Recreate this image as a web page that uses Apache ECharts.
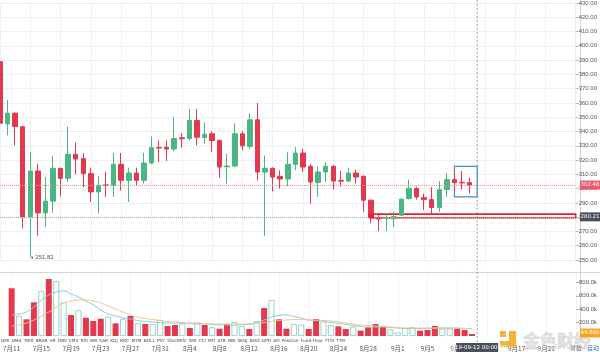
<!DOCTYPE html>
<html>
<head>
<meta charset="utf-8">
<script src="https://cdn.jsdelivr.net/npm/echarts@6/dist/echarts.min.js"></script>
<style>
html, body { margin: 0; padding: 0; background: #fff; }
#main { width: 600px; height: 352px; }
</style>
</head>
<body>
<div id="main"></div>
<script>
// 日期类目 (2019-07-11 起, 共 77 个位置)
var dates = [];
for (var k = 0; k < 77; k++) {
    var d = new Date(2019, 6, 11 + k);
    dates.push(d.getFullYear() + '-' + (d.getMonth() + 1) + '-' + d.getDate());
}

// K线 [open, close, low, high]
var candles = [
    [388.9, 345.8, 314.2, 391.0], [345.4, 352.8, 337.2, 362.1], [352.8, 343.5, 330.2, 353.5],
    [343.3, 280.2, 272.1, 344.0], [280.2, 312.3, 251.82, 325.6], [312.3, 283.0, 267.0, 317.5],
    [283.0, 291.2, 273.2, 308.1], [291.2, 314.2, 283.0, 323.0], [314.2, 307.2, 294.6, 314.6],
    [307.2, 324.0, 304.6, 343.5], [324.0, 320.7, 310.0, 332.3], [321.0, 310.5, 301.1, 324.9],
    [310.5, 297.7, 290.7, 314.7], [297.7, 302.3, 282.6, 308.6], [302.6, 302.2, 294.2, 311.6],
    [302.3, 317.0, 294.2, 324.9], [317.0, 305.8, 298.8, 324.9], [305.8, 310.9, 290.7, 314.7],
    [310.9, 305.8, 302.3, 314.7], [305.8, 317.9, 303.5, 325.1], [317.9, 328.6, 317.0, 336.5],
    [328.8, 328.4, 318.6, 333.7], [329.0, 327.7, 319.3, 333.7], [327.7, 335.1, 326.1, 350.0],
    [335.6, 334.9, 328.6, 338.8], [335.1, 347.7, 333.7, 355.8], [347.7, 336.0, 330.2, 355.8],
    [335.8, 338.1, 331.4, 346.5], [338.4, 333.7, 325.6, 340.0], [333.7, 315.1, 307.7, 334.5],
    [315.3, 315.8, 303.5, 324.4], [315.8, 338.4, 315.0, 345.8], [338.4, 330.0, 326.7, 340.2],
    [329.5, 348.2, 327.9, 352.8], [348.2, 311.6, 305.8, 360.0], [311.6, 314.2, 267.0, 323.3],
    [314.2, 308.1, 298.1, 315.0], [308.6, 306.7, 300.0, 312.8], [306.7, 317.0, 301.6, 325.4],
    [317.0, 324.9, 312.8, 329.1], [324.9, 315.1, 311.6, 327.9], [315.6, 304.6, 289.5, 317.0],
    [304.2, 311.6, 294.2, 315.6], [311.6, 315.6, 304.6, 318.4], [315.6, 305.3, 299.3, 316.5],
    [305.8, 305.2, 301.1, 312.4], [305.3, 310.9, 304.6, 314.7], [310.9, 308.1, 303.5, 313.3],
    [308.6, 291.9, 283.7, 309.3], [291.9, 280.2, 275.6, 292.3], [279.8, 278.7, 270.2, 283.0],
    [279.4, 279.6, 270.2, 283.0], [279.0, 280.4, 273.2, 283.7], [281.4, 292.6, 280.6, 293.3],
    [293.0, 300.0, 292.3, 306.3], [300.0, 294.2, 292.3, 301.2], [293.7, 292.3, 284.9, 296.5],
    [292.3, 286.8, 282.1, 301.1], [286.8, 299.3, 283.7, 305.3], [299.3, 306.3, 294.2, 310.9],
    [306.3, 304.2, 298.8, 312.8], [304.4, 304.0, 299.3, 312.4], [304.2, 302.48, 296.5, 307.7]
];

// 成交量 (k)
var volumes = [712, 299, 249, 503, 672, 851, 821, 503, 313, 383, 273, 224, 258, 288, 189, 249,
    299, 189, 179, 179, 239, 149, 164, 189, 119, 199, 164, 129, 109, 179, 209, 149, 104, 219,
    418, 537, 249, 109, 179, 169, 104, 254, 214, 159, 144, 104, 139, 80, 129, 179, 139, 100,
    50, 115, 129, 80, 90, 149, 109, 109, 115, 90, 30];

// 成交量均线 (读图, k)
var volMa1 = [313, 328, 358, 433, 537, 612, 657, 672, 627, 582, 522, 463, 388, 328, 299, 269,
    254, 231, 216, 209, 201, 194, 194, 194, 187, 179, 179, 172, 164, 164, 164, 172, 179, 201,
    239, 284, 306, 313, 291, 269, 239, 231, 224, 201, 187, 172, 157, 142, 134, 134, 134, 127,
    119, 112, 112, 112, 112, 119, 119, 119, 119, 112, 104];
var volMa2 = [149, 164, 194, 239, 299, 358, 433, 493, 522, 537, 537, 522, 493, 448, 403, 358,
    313, 284, 261, 246, 231, 216, 209, 201, 194, 194, 187, 179, 179, 179, 179, 179, 179, 187,
    201, 216, 231, 239, 246, 246, 239, 239, 231, 224, 209, 194, 179, 164, 157, 149, 142, 134,
    127, 119, 119, 119, 119, 119, 119, 119, 112, 112, 112];

var indicatorNames = ['DMI', 'DMA', 'TRIX', 'BRAR', 'VR', 'OBV', 'EMV', 'RSI', 'WR', 'SAR', 'KDJ',
    'ROC', 'MTM', 'BOLL', 'PSY', 'StochRSI', 'SMI', 'CCI', 'MFI', 'ATR', 'BBI', 'SKDJ', 'BIAS',
    'DPO', 'AO', 'Position', 'Fund-Flow', 'TTSI', 'TTM'];

var lastPrice = 302.48;
var crossPrice = 280.21;
var crossIndex = 63;
var lowLabel = '251.82';
var supportBand = [282.1, 279.6];
var boxRange = [315.6, 294.2];

var upColor = '#4cb584';
var downColor = '#e2394e';
var cjk = '"Noto Sans CJK SC", "DejaVu Sans", sans-serif';

var myechart = echarts.init(document.getElementById('main'));

function every4(idx) { return idx % 4 === 0; }
function fmtDate(v) {
    var p = v.split('-');
    return p[1] + '月' + p[2];
}

var volBars = volumes.map(function (v, i) {
    var up = candles[i][1] >= candles[i][0];
    return {
        value: v * 1000,
        itemStyle: up
            ? { color: '#fff', borderColor: '#82c8bf', borderWidth: 0.8 }
            : { color: downColor, borderWidth: 0 }
    };
});

var option = {
    animation: false,
    grid: [
        { left: 0, right: 20, top: 2, height: 258 },
        { left: 0, right: 20, top: 269, height: 67 }
    ],
    xAxis: [
        {
            type: 'category', gridIndex: 0, data: dates, boundaryGap: false,
            axisLine: { show: false }, axisTick: { show: false }, axisLabel: { show: false },
            splitLine: { show: true, interval: every4, lineStyle: { color: '#f0f0f0' } }
        },
        {
            type: 'category', gridIndex: 1, data: dates, boundaryGap: false,
            axisLine: { show: false }, axisTick: { show: false },
            axisLabel: {
                show: true, color: '#555', fontSize: 6.5, fontFamily: cjk, margin: 9,
                interval: function (idx) { return idx % 4 === 0 && idx < 76; },
                formatter: fmtDate
            },
            splitLine: { show: true, interval: every4, lineStyle: { color: '#f3f3f3' } }
        }
    ],
    yAxis: [
        {
            type: 'value', gridIndex: 0, position: 'right', min: 250, max: 430, interval: 10,
            axisLine: { show: false },
            axisTick: { show: true, length: 3, lineStyle: { color: '#bbb' } },
            axisLabel: { color: '#555', fontSize: 6, margin: 3, formatter: function (v) { return v.toFixed(2); } },
            splitLine: { lineStyle: { color: '#f0f0f0' } }
        },
        {
            type: 'value', gridIndex: 1, position: 'right', min: 0, max: 1000000, interval: 200000,
            axisLine: { show: false },
            axisTick: { show: true, length: 3, lineStyle: { color: '#bbb' } },
            axisLabel: {
                color: '#555', fontSize: 6, margin: 3, showMinLabel: false, showMaxLabel: false,
                formatter: function (v) { return (v / 1000).toFixed(1) + 'k'; }
            },
            splitLine: { show: false }
        }
    ],
    series: [
        {
            type: 'candlestick', xAxisIndex: 0, yAxisIndex: 0, data: candles,
            barWidth: 5,
            itemStyle: { color: upColor, color0: downColor, borderColor: upColor, borderColor0: downColor, borderWidth: 1 },
            markLine: {
                symbol: 'none', silent: true, label: { show: false },
                data: [
                    { yAxis: lastPrice, lineStyle: { color: '#ec8f9a', type: 'dotted', width: 1 } },
                    { yAxis: crossPrice, lineStyle: { color: '#a8a8a8', type: 'dotted', width: 1 } }
                ]
            },
            markArea: {
                silent: true,
                data: [
                    [{ xAxis: dates[60], yAxis: boxRange[0], itemStyle: { color: 'rgba(0,0,0,0)', borderColor: '#3d8fd6', borderWidth: 1.2 } },
                     { xAxis: dates[63], yAxis: boxRange[1] }],
                    [{ xAxis: dates[49], yAxis: supportBand[0], itemStyle: { color: 'rgba(0,0,0,0)', borderColor: '#e4232f', borderWidth: 1.6 } },
                     { xAxis: dates[76], yAxis: supportBand[1] }]
                ]
            },
            markPoint: {
                silent: true,
                data: [
                    {
                        coord: [dates[4], candles[4][2]], symbol: 'circle', symbolSize: 2, symbolOffset: [2, 0],
                        itemStyle: { color: '#666' },
                        label: { show: true, position: 'right', distance: 2, formatter: lowLabel, fontSize: 6, color: '#555' }
                    },
                    {
                        coord: [dates[49], (supportBand[0] + supportBand[1]) / 2], symbol: 'rect', symbolSize: [5, 5],
                        itemStyle: { color: '#e4232f' }, label: { show: false }
                    }
                ]
            }
        },
        {
            type: 'bar', xAxisIndex: 1, yAxisIndex: 1, data: volBars, barWidth: 6
        },
        {
            type: 'line', xAxisIndex: 1, yAxisIndex: 1, smooth: true, symbol: 'none',
            data: volMa1.map(function (v) { return v * 1000; }),
            lineStyle: { color: '#7fcfdc', width: 1 }
        },
        {
            type: 'line', xAxisIndex: 1, yAxisIndex: 1, smooth: true, symbol: 'none',
            data: volMa2.map(function (v) { return v * 1000; }),
            lineStyle: { color: '#f2c48d', width: 1 }
        }
    ]
};

myechart.setOption(option);

// 附加图形: 分隔线, 坐标轴线, 十字光标, 价格标签, 指标栏, 水印
var crossX = myechart.convertToPixel({ xAxisIndex: 0 }, dates[crossIndex]);
var lastY = myechart.convertToPixel({ yAxisIndex: 0 }, lastPrice);
var crossY = myechart.convertToPixel({ yAxisIndex: 0 }, crossPrice);
var volTagY = myechart.convertToPixel({ yAxisIndex: 1 }, 45000);

function tag(y, text, bg) {
    return [
        { type: 'rect', shape: { x: 580, y: y - 4.5, width: 20, height: 9 }, style: { fill: bg }, z: 20 },
        { type: 'text', x: 590, y: y, style: { text: text, fill: '#fff', font: '5.5px "DejaVu Sans"', align: 'center', verticalAlign: 'middle', textAlign: 'center', textVerticalAlign: 'middle' }, z: 21 }
    ];
}

var g = [
    { type: 'line', shape: { x1: 0, y1: 272.5, x2: 600, y2: 272.5 }, style: { stroke: '#d6d6d6', lineWidth: 1 } },
    { type: 'line', shape: { x1: 580.5, y1: 0, x2: 580.5, y2: 340 }, style: { stroke: '#d0d0d0', lineWidth: 1 } },
    { type: 'line', shape: { x1: crossX, y1: 0, x2: crossX, y2: 344 }, style: { stroke: '#a0a0a0', lineWidth: 1, lineDash: [2, 2] } }
];
g = g.concat(tag(lastY, lastPrice.toFixed(2), '#e8596b'));
g = g.concat(tag(crossY, crossPrice.toFixed(2), '#4b4f5b'));
g = g.concat(tag(volTagY, '44.68k', '#f5a623'));

// 时间标签
g.push({ type: 'rect', shape: { x: crossX - 21, y: 343, width: 42, height: 9 }, style: { fill: '#4b4f5b' }, z: 20 });
g.push({ type: 'text', x: crossX, y: 347.5, style: { text: '2019-09-12 00:00:00', fill: '#fff', font: '5.5px "DejaVu Sans"', align: 'center', verticalAlign: 'middle', textAlign: 'center', textVerticalAlign: 'middle' }, z: 21 });

// 右下角按钮
g.push({ type: 'text', x: 576, y: 348, style: { text: '对数', fill: '#555', font: '6px ' + cjk, align: 'center', verticalAlign: 'middle', textAlign: 'center', textVerticalAlign: 'middle' } });
g.push({ type: 'text', x: 593, y: 348, style: { text: '自动', fill: '#2f7fd1', font: '6px ' + cjk, align: 'center', verticalAlign: 'middle', textAlign: 'center', textVerticalAlign: 'middle' } });

// 指标栏
var ctx = document.createElement('canvas').getContext('2d');
var indFont = '4.3px "DejaVu Sans"';
ctx.font = indFont;
var widths = indicatorNames.map(function (t) { return ctx.measureText(t).width; });
var total = widths.reduce(function (a, b) { return a + b; }, 0);
var gap = Math.max(1.5, (344 - total) / (indicatorNames.length - 1));
var cx = 1;
indicatorNames.forEach(function (t, i) {
    g.push({ type: 'text', x: cx, y: 341, style: { text: t, fill: '#444', font: indFont, align: 'left', verticalAlign: 'middle', textAlign: 'left', textVerticalAlign: 'middle' } });
    cx += widths[i] + gap;
});

// 水印
g.push({ type: 'rect', shape: { x: 500, y: 331, width: 6, height: 6 }, style: { fill: '#f3b33d' }, z: 15 });
g.push({ type: 'rect', shape: { x: 509, y: 331, width: 7, height: 16 }, style: { fill: '#f3b33d' }, z: 15 });
g.push({ type: 'rect', shape: { x: 500, y: 341, width: 9, height: 6 }, style: { fill: '#f3b33d' }, z: 15 });
g.push({ type: 'text', x: 523, y: 341, style: { text: '金色财经', fill: 'rgba(205,205,205,0.55)', stroke: 'rgba(170,170,170,0.5)', lineWidth: 0.5, font: 'bold 17px ' + cjk, align: 'left', verticalAlign: 'middle', textAlign: 'left', textVerticalAlign: 'middle' }, z: 15 });

myechart.setOption({ graphic: { elements: g } });

window.addEventListener('resize', function () {
    myechart.resize();
});
</script>
</body>
</html>
